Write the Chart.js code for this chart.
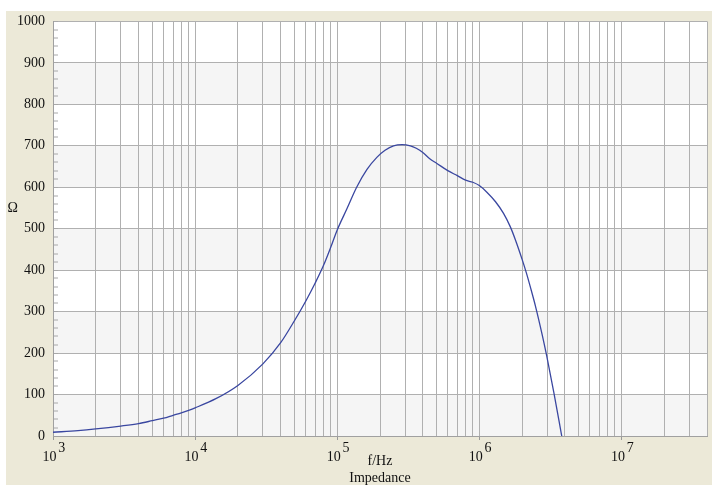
<!DOCTYPE html>
<html><head><meta charset="utf-8">
<script src="https://cdn.jsdelivr.net/npm/chart.js@4.4.1/dist/chart.umd.min.js"></script>
<style>html,body{margin:0;padding:0;background:#fff;overflow:hidden}canvas{display:block}</style>
</head><body>
<canvas id="c" width="712" height="487"></canvas>
<script>
// ---- data ----
const freqHz = [1e3, 1.5e3, 2e3, 3e3, 4e3, 5e3, 6e3, 7e3, 8e3, 9e3,
  1e4, 1.4e4, 2e4, 3e4, 4e4, 5e4, 6e4, 7e4, 8e4, 9e4,
  1e5, 1.17e5, 1.37e5, 1.62e5, 1.9e5, 2.17e5, 2.49e5, 2.86e5, 3.27e5, 3.6e5, 4e5, 4.5e5, 5e5, 6e5, 7e5, 8e5, 9e5,
  1e6, 1.13e6, 1.3e6, 1.48e6, 1.65e6, 1.79e6, 2e6, 2.14e6, 2.3e6, 2.48e6, 2.77e6, 2.98e6, 3.34e6, 3.8e6];
const impedanceOhm = [9, 13, 17, 24, 30, 37, 43, 50, 56, 62,
  68, 90, 122, 174, 225, 278, 325, 369, 411, 455,
  497, 548, 600, 643, 672, 689, 700, 703, 700, 694, 684, 668, 658, 640, 628, 617, 612,
  604, 588, 565, 537, 505, 474, 426, 394, 356, 314, 244, 193, 106, 0];

const xTickValues = [1e3, 2e3, 3e3, 4e3, 5e3, 6e3, 7e3, 8e3, 9e3,
  1e4, 2e4, 3e4, 4e4, 5e4, 6e4, 7e4, 8e4, 9e4,
  1e5, 2e5, 3e5, 4e5, 5e5, 6e5, 7e5, 8e5, 9e5,
  1e6, 2e6, 3e6, 4e6, 5e6, 6e6, 7e6, 8e6, 9e6,
  1e7, 2e7, 3e7, 4e7];
const xDecadeValues = [1e3, 1e4, 1e5, 1e6, 1e7];
const xDecadeExponents = ['3', '4', '5', '6', '7'];
const xMin = 1e3, xMax = 4e7;
const yMajorTicks = [0, 100, 200, 300, 400, 500, 600, 700, 800, 900, 1000];
const yMinorStep = 20;
const yMin = 0, yMax = 1000;
const yUnitLabel = 'Ω';
const yUnitValue = 550;
const xTitleLines = ['f/Hz', 'Impedance'];

// ---- styling ----
const FONT = 'Liberation Serif, Times New Roman, serif';
const GRID = '#b0b0b0';
const TXT = '#111';

const bgPlugin = {
  id: 'bg',
  beforeDraw(chart) {
    const {ctx, chartArea: a, scales} = chart;
    const y = scales.y;
    ctx.save();
    ctx.fillStyle = '#ffffff';
    ctx.fillRect(0, 0, chart.width, chart.height);
    ctx.fillStyle = '#ECE9D8';
    ctx.fillRect(6, 11, chart.width - 6, 474);
    ctx.fillStyle = '#ffffff';
    ctx.fillRect(a.left, a.top, a.right - a.left, a.bottom - a.top);
    ctx.fillStyle = '#f5f5f5';
    for (let i = 0; i < yMajorTicks.length - 1; i += 2) {
      const yb = y.getPixelForValue(yMajorTicks[i]);
      const yt = y.getPixelForValue(yMajorTicks[i + 1]);
      ctx.fillRect(a.left, yt, a.right - a.left, yb - yt);
    }
    ctx.restore();
  }
};

const isDecade = v => xDecadeValues.some(d => Math.abs(d - v) < d * 1e-9);

new Chart(document.getElementById('c'), {
  type: 'line',
  data: {
    datasets: [{
      data: freqHz.map((f, i) => ({x: f, y: impedanceOhm[i]})),
      borderColor: '#3a47a0',
      borderWidth: 1.3,
      pointRadius: 0,
      fill: false,
      tension: 0.3,
      cubicInterpolationMode: 'monotone',
      xAxisID: 'x',
      yAxisID: 'y'
    }]
  },
  options: {
    responsive: false,
    animation: false,
    devicePixelRatio: 1,
    layout: {padding: {top: 19, right: 5, left: 0, bottom: 0}},
    plugins: {legend: {display: false}, tooltip: {enabled: false}, title: {display: false}},
    scales: {
      x: {
        type: 'logarithmic',
        position: 'bottom',
        min: xMin, max: xMax,
        afterBuildTicks: s => { s.ticks = xTickValues.map(v => ({value: v})); },
        afterFit: s => { s.height = 51; },
        grid: {
          color: GRID, lineWidth: 1,
          drawTicks: true, tickLength: 4, tickWidth: 1,
          tickColor: c => (c.tick && isDecade(c.tick.value)) ? '#999' : 'rgba(0,0,0,0)'
        },
        border: {display: true, color: '#a0a0a0', width: 1},
        ticks: {
          autoSkip: false, maxRotation: 0, minRotation: 0, padding: 3.5,
          color: TXT,
          font: {family: FONT, size: 14, lineHeight: '9px'},
          callback: v => {
            const i = xDecadeValues.findIndex(d => Math.abs(d - v) < d * 1e-9);
            return i >= 0 ? ['     ' + xDecadeExponents[i], '10  '] : '';
          }
        },
        title: {
          display: true, text: xTitleLines, color: TXT,
          font: {family: FONT, size: 14, lineHeight: '17px'},
          padding: {top: 0, bottom: 0}
        }
      },
      y: {
        type: 'linear', position: 'left', weight: 0,
        min: yMin, max: yMax,
        afterBuildTicks: s => {
          const t = [];
          for (let v = yMin; v <= yMax; v += yMinorStep) t.push({value: v});
          s.ticks = t;
        },
        afterFit: s => { s.width = 35; },
        grid: {
          color: GRID,
          lineWidth: c => (c.tick && yMajorTicks.includes(c.tick.value)) ? 1 : 0,
          drawTicks: true, tickLength: -5, tickWidth: 1, tickColor: '#a8a8a8'
        },
        border: {display: true, color: '#a0a0a0', width: 1},
        ticks: {
          autoSkip: false, padding: 13, color: TXT,
          font: {family: FONT, size: 14},
          callback: v => yMajorTicks.includes(v) ? String(v) : ''
        }
      },
      yUnit: {
        type: 'linear', position: 'left', weight: 1,
        min: yMin, max: yMax,
        afterBuildTicks: s => { s.ticks = [{value: yUnitValue}]; },
        afterFit: s => { s.width = 18; },
        grid: {display: false, drawTicks: false},
        border: {display: false},
        ticks: {
          autoSkip: false, padding: 0, color: TXT,
          font: {family: FONT, size: 14},
          callback: () => yUnitLabel
        }
      }
    }
  },
  plugins: [bgPlugin]
});
</script>
</body></html>
